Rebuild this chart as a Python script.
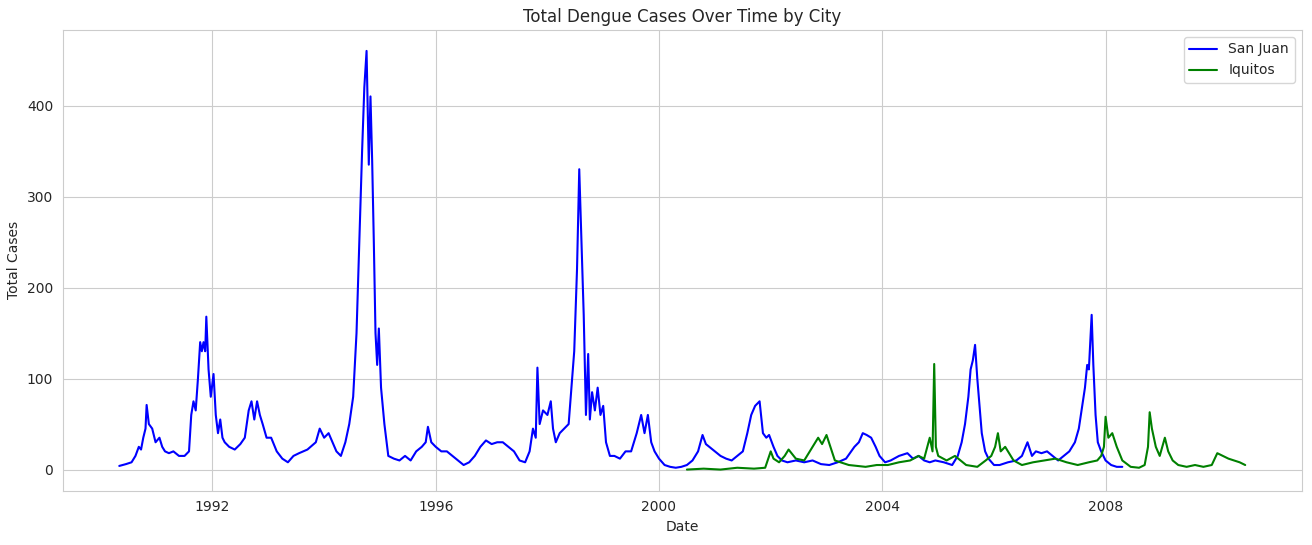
import numpy as np, pandas as pd, matplotlib
matplotlib.use("Agg")
import matplotlib.pyplot as plt, seaborn as sns

# (decimal year, total cases)
san_juan = [(1990.33,4),(1990.45,6),(1990.55,8),(1990.62,15),(1990.68,25),(1990.72,22),(1990.76,35),(1990.8,45),(1990.82,71),(1990.86,50),(1990.92,45),(1990.98,30),(1991.05,35),(1991.1,25),(1991.15,20),(1991.22,18),(1991.3,20),(1991.4,15),(1991.5,15),(1991.58,20),(1991.62,60),(1991.66,75),(1991.7,65),(1991.74,100),(1991.78,140),(1991.81,130),(1991.84,140),(1991.87,130),(1991.89,168),(1991.93,110),(1991.97,80),(1992.02,105),(1992.06,60),(1992.1,40),(1992.14,55),(1992.18,35),(1992.22,30),(1992.3,25),(1992.4,22),(1992.5,28),(1992.58,35),(1992.65,65),(1992.7,75),(1992.75,55),(1992.8,75),(1992.85,60),(1992.9,50),(1992.97,35),(1993.05,35),(1993.15,20),(1993.25,12),(1993.35,8),(1993.45,15),(1993.55,18),(1993.7,22),(1993.85,30),(1993.92,45),(1994.0,35),(1994.08,40),(1994.15,30),(1994.22,20),(1994.3,15),(1994.38,30),(1994.45,50),(1994.52,80),(1994.58,150),(1994.63,250),(1994.68,350),(1994.72,420),(1994.76,460),(1994.8,335),(1994.83,410),(1994.86,340),(1994.89,250),(1994.92,150),(1994.95,115),(1994.98,155),(1995.02,90),(1995.08,50),(1995.15,15),(1995.25,12),(1995.35,10),(1995.45,15),(1995.55,10),(1995.65,20),(1995.75,25),(1995.82,30),(1995.86,47),(1995.92,30),(1996.0,25),(1996.1,20),(1996.2,20),(1996.3,15),(1996.4,10),(1996.5,5),(1996.6,8),(1996.7,15),(1996.8,25),(1996.9,32),(1997.0,28),(1997.1,30),(1997.2,30),(1997.3,25),(1997.4,20),(1997.5,10),(1997.6,8),(1997.68,20),(1997.74,45),(1997.79,35),(1997.82,112),(1997.86,50),(1997.92,65),(1998.0,60),(1998.06,75),(1998.1,45),(1998.15,30),(1998.22,40),(1998.3,45),(1998.38,50),(1998.48,130),(1998.53,220),(1998.57,330),(1998.61,250),(1998.65,170),(1998.69,60),(1998.73,127),(1998.76,55),(1998.8,85),(1998.85,65),(1998.9,90),(1998.95,60),(1999.0,70),(1999.05,30),(1999.12,15),(1999.2,15),(1999.3,12),(1999.4,20),(1999.5,20),(1999.6,40),(1999.68,60),(1999.74,40),(1999.8,60),(1999.86,30),(1999.92,20),(2000.0,12),(2000.1,5),(2000.2,3),(2000.3,2),(2000.4,3),(2000.5,5),(2000.6,10),(2000.7,20),(2000.78,38),(2000.84,28),(2000.9,25),(2001.0,20),(2001.1,15),(2001.2,12),(2001.3,10),(2001.4,15),(2001.5,20),(2001.58,40),(2001.65,60),(2001.72,70),(2001.8,75),(2001.86,40),(2001.92,35),(2001.97,38),(2002.05,25),(2002.12,15),(2002.2,10),(2002.3,8),(2002.45,10),(2002.6,8),(2002.75,10),(2002.9,6),(2003.05,5),(2003.2,8),(2003.35,12),(2003.5,25),(2003.58,30),(2003.65,40),(2003.72,38),(2003.8,35),(2003.88,25),(2003.95,15),(2004.05,8),(2004.15,10),(2004.3,15),(2004.45,18),(2004.55,12),(2004.65,15),(2004.75,10),(2004.85,8),(2004.95,10),(2005.1,8),(2005.25,5),(2005.35,15),(2005.42,30),(2005.48,50),(2005.54,80),(2005.58,110),(2005.62,120),(2005.66,137),(2005.7,100),(2005.74,70),(2005.78,40),(2005.84,20),(2005.9,12),(2006.0,5),(2006.1,5),(2006.25,8),(2006.4,10),(2006.5,15),(2006.6,30),(2006.68,15),(2006.75,20),(2006.85,18),(2006.95,20),(2007.05,15),(2007.15,10),(2007.25,15),(2007.35,20),(2007.45,30),(2007.52,45),(2007.58,70),(2007.63,90),(2007.67,115),(2007.7,110),(2007.75,170),(2007.78,115),(2007.82,60),(2007.86,30),(2007.92,20),(2008.0,10),(2008.1,5),(2008.2,3),(2008.3,3)]
iquitos = [(2000.5,0),(2000.8,1),(2001.1,0),(2001.4,2),(2001.7,1),(2001.9,2),(2002.0,20),(2002.05,12),(2002.15,8),(2002.25,15),(2002.32,22),(2002.45,12),(2002.6,10),(2002.75,25),(2002.85,35),(2002.92,28),(2003.0,38),(2003.15,10),(2003.4,5),(2003.7,3),(2003.9,5),(2004.1,5),(2004.3,8),(2004.5,10),(2004.65,15),(2004.75,12),(2004.85,35),(2004.9,20),(2004.93,116),(2004.96,25),(2005.0,15),(2005.15,10),(2005.3,15),(2005.5,5),(2005.7,3),(2005.85,10),(2005.95,15),(2006.02,25),(2006.07,40),(2006.12,20),(2006.2,25),(2006.35,10),(2006.5,5),(2006.7,8),(2006.9,10),(2007.1,12),(2007.3,8),(2007.5,5),(2007.7,8),(2007.85,10),(2007.92,15),(2007.97,25),(2008.0,58),(2008.05,35),(2008.12,40),(2008.2,25),(2008.3,10),(2008.45,3),(2008.6,2),(2008.7,5),(2008.76,25),(2008.79,63),(2008.83,45),(2008.9,25),(2008.97,15),(2009.06,35),(2009.12,20),(2009.2,10),(2009.3,5),(2009.45,3),(2009.6,5),(2009.75,3),(2009.9,5),(2010.0,18),(2010.1,15),(2010.2,12),(2010.3,10),(2010.4,8),(2010.5,5)]

def to_dates(t):
    t = np.array(t, dtype=float)
    yr = np.floor(t).astype(int)
    return [pd.Timestamp(f"{y}-01-01") + pd.Timedelta(days=float(f * 365.25)) for y, f in zip(yr, t - yr)]

frames = []
for name, pairs in [("San Juan", san_juan), ("Iquitos", iquitos)]:
    t, v = zip(*pairs)
    frames.append(pd.DataFrame({"Date": to_dates(t), "Total Cases": list(v), "City": name}))
df = pd.concat(frames, ignore_index=True)

sns.set_style("whitegrid")
fig, ax = plt.subplots(figsize=(13.12, 5.45), dpi=100)
sns.lineplot(data=df, x="Date", y="Total Cases", hue="City",
             palette={"San Juan": "blue", "Iquitos": "green"}, ax=ax)
ax.set_title("Total Dengue Cases Over Time by City")
ax.legend(loc="upper right")
fig.subplots_adjust(left=0.048, right=0.992, top=0.945, bottom=0.1)
fig.savefig("out.png")
